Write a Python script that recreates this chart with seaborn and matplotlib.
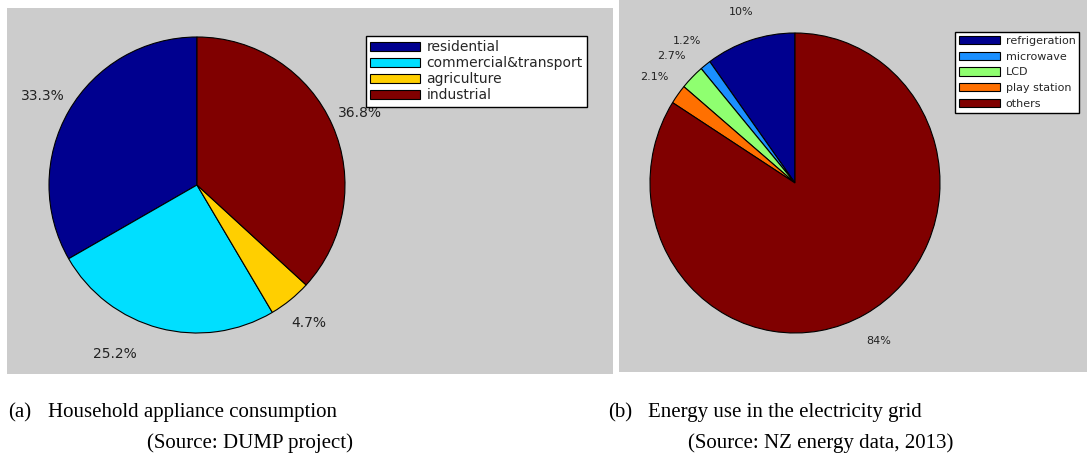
import numpy as np
import pandas as pd
import seaborn as sns
import matplotlib.pyplot as plt

# Estilo general
sns.set_theme(style="white")
plt.rcParams['font.family'] = ['DejaVu Sans']

# (a) consumo por sector
sectores = ['residential', 'commercial&transport', 'agriculture', 'industrial']
pct_sector = [33.3, 25.2, 4.7, 36.8]
col_sector = ['#00008f', '#00dfff', '#ffcf00', '#800000']

# (b) uso en la red
aparatos = ['refrigeration', 'microwave', 'LCD', 'play station', 'others']
pct_aparato = [10, 1.2, 2.7, 2.1, 84]
etq_aparato = ['10%', '1.2%', '2.7%', '2.1%', '84%']
col_aparato = ['#00008f', '#1a8fff', '#8fff70', '#ff7000', '#800000']

# Textos de los subtítulos
cap_a = ['(a)', 'Household appliance consumption', '(Source: DUMP project)']
cap_b = ['(b)', 'Energy use in the electricity grid', '(Source: NZ energy data, 2013)']

W, H = 1088, 459
fig = plt.figure(figsize=(W / 100, H / 100), dpi=100)


def caja(x0, y0, x1, y1):
    # caja en pixeles (origen arriba a la izquierda) -> fracción de figura
    return [x0 / W, 1 - y1 / H, (x1 - x0) / W, (y1 - y0) / H]


def panel_gris(rect):
    ax = fig.add_axes(rect)
    ax.set_facecolor('#cccccc')
    ax.set_xticks([])
    ax.set_yticks([])
    for s in ax.spines.values():
        s.set_visible(False)
    return ax


def torta(rect, valores, colores, fs, aspecto):
    ax = fig.add_axes(rect)
    wedges, _, autotexts = ax.pie(
        valores, colors=colores, startangle=90, counterclock=True,
        autopct='%1.1f%%', pctdistance=1.2,
        wedgeprops=dict(edgecolor='black', linewidth=0.8),
        textprops=dict(fontsize=fs, color='#222222'))
    ax.set_xlim(-1, 1)
    ax.set_ylim(-1, 1)
    ax.set_aspect(aspecto)
    ax.patch.set_alpha(0)
    return ax, wedges, autotexts


# Panel (a)
panel_gris(caja(7, 8, 613, 374))
ax_a, cuñas_a, txt_a = torta(caja(49, 37, 345, 333), pct_sector, col_sector, 10, 'equal')
# la etiqueta de abajo queda algo más a la izquierda en el original
x, y = txt_a[1].get_position()
txt_a[1].set_position((x - 0.25, y + 0.02))
fig.legend(cuñas_a, sectores, loc='upper left', bbox_to_anchor=(366 / W, 1 - 36 / H),
           fontsize=10, handlelength=3.6, handleheight=0.65, handletextpad=0.45,
           labelspacing=0.15, borderpad=0.3, borderaxespad=0, fancybox=False,
           framealpha=1, edgecolor='black', facecolor='white')

# Panel (b)
panel_gris(caja(619, 0, 1087, 372))
ax_b, cuñas_b, txt_b = torta(caja(650, 33, 940, 333), pct_aparato, col_aparato, 8, 'auto')
for t, s in zip(txt_b, etq_aparato):
    t.set_text(s)
fig.legend(cuñas_b, aparatos, loc='upper left', bbox_to_anchor=(955 / W, 1 - 32 / H),
           fontsize=8, handlelength=3.7, handleheight=0.8, handletextpad=0.5,
           labelspacing=0.5, borderpad=0.35, borderaxespad=0, fancybox=False,
           framealpha=1, edgecolor='black', facecolor='white')

# Subtítulos
serif = dict(family='Liberation Serif', fontsize=15, va='center', ha='left', color='black')
fig.text(8 / W, 1 - 413 / H, cap_a[0], **serif)
fig.text(48 / W, 1 - 413 / H, cap_a[1], **serif)
fig.text(147 / W, 1 - 443 / H, cap_a[2], **serif)
fig.text(608 / W, 1 - 413 / H, cap_b[0], **serif)
fig.text(648 / W, 1 - 413 / H, cap_b[1], **serif)
fig.text(688 / W, 1 - 443 / H, cap_b[2], **serif)

fig.savefig('out.png', dpi=100, facecolor='white')
